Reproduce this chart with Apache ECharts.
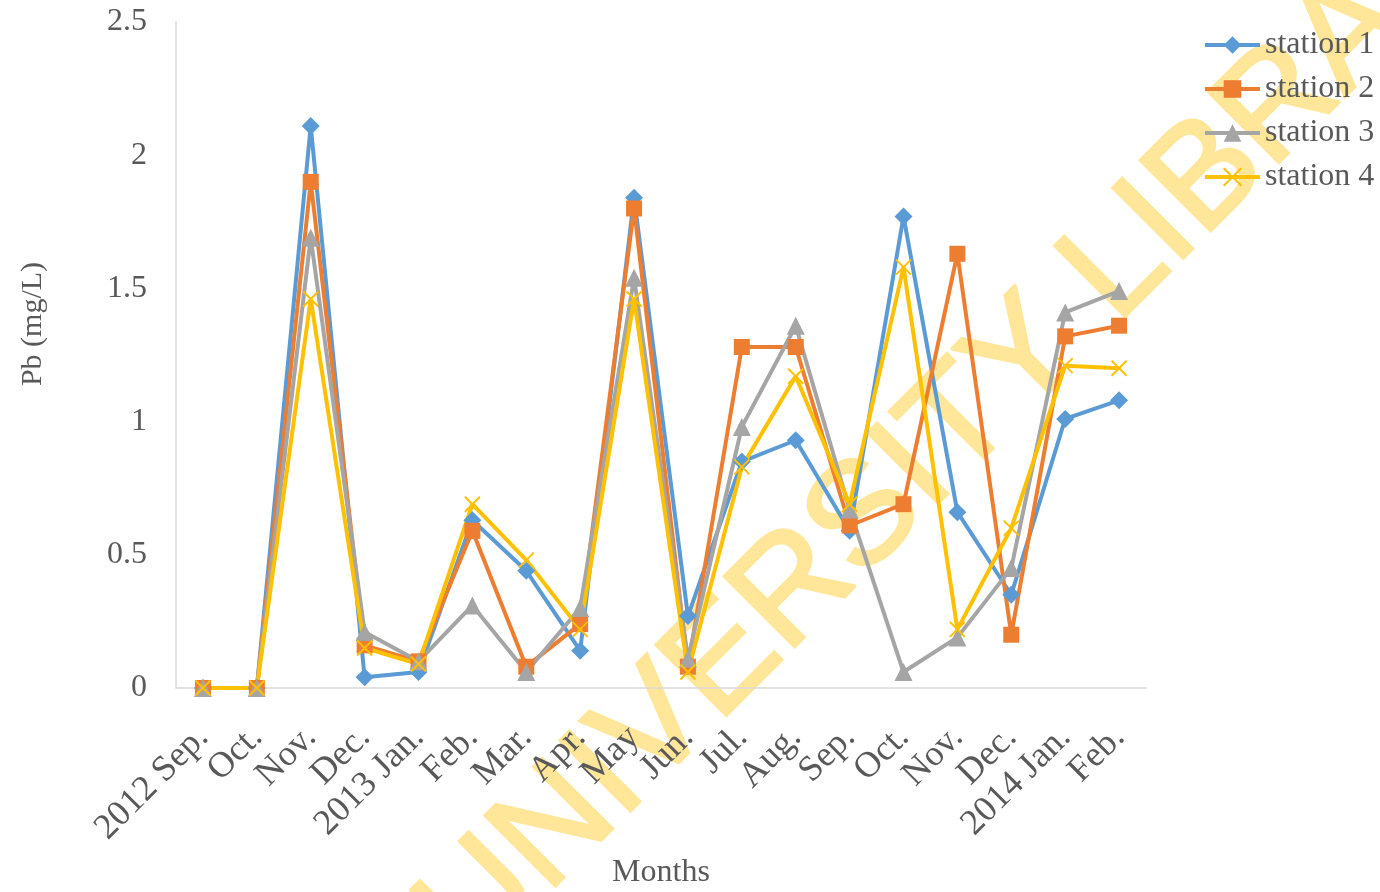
<!DOCTYPE html>
<html>
<head>
<meta charset="utf-8">
<title>Pb (mg/L) by month</title>
<script src="https://cdn.jsdelivr.net/npm/echarts@6/dist/echarts.min.js"></script>
<style>
  html, body { margin: 0; padding: 0; background: #fff; }
  #chart { width: 1380px; height: 892px; }
</style>
</head>
<body>
<div id="chart"></div>
<script>
// Sampling months, Sep 2012 – Feb 2014
const months = ['2012 Sep.', 'Oct.', 'Nov.', 'Dec.', '2013 Jan.', 'Feb.', 'Mar.', 'Apr.', 'May',
  'Jun.', 'Jul.', 'Aug.', 'Sep.', 'Oct.', 'Nov.', 'Dec.', '2014 Jan.', 'Feb.'];

// Lead concentration (mg/L) at each station
const station1 = [0, 0, 2.11, 0.04, 0.06, 0.63, 0.44, 0.14, 1.84, 0.27, 0.85, 0.93, 0.59, 1.77, 0.66, 0.35, 1.01, 1.08];
const station2 = [0, 0, 1.90, 0.16, 0.10, 0.59, 0.08, 0.24, 1.80, 0.08, 1.28, 1.28, 0.61, 0.69, 1.63, 0.20, 1.32, 1.36];
const station3 = [0, 0, 1.69, 0.21, 0.10, 0.31, 0.06, 0.30, 1.54, 0.11, 0.98, 1.36, 0.67, 0.06, 0.19, 0.45, 1.41, 1.49];
const station4 = [0, 0, 1.46, 0.15, 0.09, 0.69, 0.48, 0.22, 1.46, 0.06, 0.83, 1.17, 0.69, 1.58, 0.22, 0.60, 1.21, 1.20];

const yTicks = { min: 0, max: 2.5, step: 0.5 };

const serif = '"Liberation Serif", "Times New Roman", serif';
const textGrey = '#595959';
const axisGrey = '#D9D9D9';

// Cross marker drawn as a stroked path
const crossPath = 'path://M0,0L10,10M10,0L0,10';

function lineSeries(name, data, color, symbol, size, extra) {
  return Object.assign({
    name: name,
    type: 'line',
    data: data,
    symbol: symbol,
    symbolSize: size,
    showAllSymbol: true,
    lineStyle: { color: color, width: 4 },
    itemStyle: { color: color },
    emphasis: { disabled: true },
    animation: false
  }, extra || {});
}

const chart = echarts.init(document.getElementById('chart'), null, { renderer: 'canvas' });

chart.setOption({
  backgroundColor: '#ffffff',
  animation: false,
  textStyle: { fontFamily: serif },
  grid: {
    left: 176, right: 234, top: 22, bottom: 204,
    containLabel: false,
    outerBoundsMode: 'none'
  },
  legend: {
    orient: 'vertical',
    left: 1203,
    top: 29,
    padding: 0,
    itemWidth: 55,
    itemHeight: 22,
    itemGap: 12,
    lineStyle: { width: 4 },
    textStyle: { fontFamily: serif, fontSize: 32, color: textGrey },
    data: ['station 1', 'station 2', 'station 3', 'station 4']
  },
  xAxis: {
    type: 'category',
    data: months,
    boundaryGap: true,
    axisLine: { lineStyle: { color: axisGrey, width: 1.5 } },
    axisTick: { show: false },
    axisLabel: {
      rotate: 45,
      interval: 0,
      margin: 44,
      fontFamily: serif,
      fontSize: 36,
      color: textGrey
    },
    name: 'Months',
    nameLocation: 'middle',
    nameGap: 169,
    nameTextStyle: { fontFamily: serif, fontSize: 32, color: textGrey }
  },
  yAxis: {
    type: 'value',
    min: yTicks.min,
    max: yTicks.max,
    interval: yTicks.step,
    axisLine: { show: true, lineStyle: { color: axisGrey, width: 1.5 } },
    axisTick: { show: false },
    splitLine: { show: false },
    axisLabel: {
      margin: 29,
      padding: [4, 0, 0, 0],
      fontFamily: serif,
      fontSize: 32,
      color: textGrey
    }
  },
  graphic: [
    {
      // diagonal library watermark behind the plot
      type: 'text',
      z: -10,
      x: 985,
      y: 400,
      rotation: Math.PI / 4,
      silent: true,
      style: {
        text: 'UNIVERSITY LIBRARY',
        fill: '#FFE699',
        stroke: '#FFE699',
        lineWidth: 3,
        font: '145px "Liberation Sans", Arial, sans-serif',
        align: 'center',
        verticalAlign: 'middle'
      }
    },
    {
      type: 'text',
      x: 33,
      y: 324,
      rotation: Math.PI / 2,
      style: {
        text: 'Pb (mg/L)',
        fill: textGrey,
        font: '30px ' + serif,
        align: 'center',
        verticalAlign: 'middle'
      }
    }
  ],
  series: [
    lineSeries('station 1', station1, '#5B9BD5', 'diamond', 18),
    lineSeries('station 2', station2, '#ED7D31', 'rect', 16),
    lineSeries('station 3', station3, '#A5A5A5', 'triangle', 18),
    lineSeries('station 4', station4, '#FFC000', crossPath, 15, {
      itemStyle: { color: '#FFC000', borderColor: '#FFC000', borderWidth: 2 }
    })
  ]
});
</script>
</body>
</html>
